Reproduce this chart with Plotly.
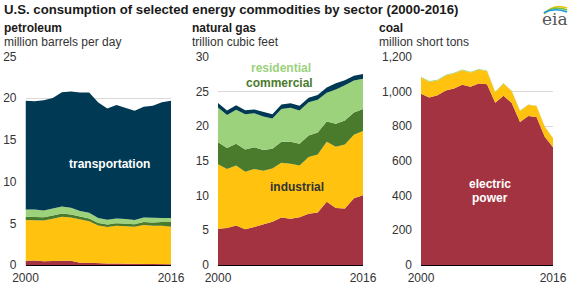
import plotly.graph_objects as go

W, H = 575, 288

years = list(range(2000, 2017))

# petroleum, million barrels per day
pet_electric = [0.50, 0.55, 0.45, 0.50, 0.50, 0.50, 0.27, 0.28, 0.20, 0.18, 0.18, 0.13, 0.10, 0.11, 0.13, 0.11, 0.10]
pet_industrial = [4.90, 4.85, 4.90, 5.05, 5.30, 5.20, 5.18, 4.97, 4.55, 4.37, 4.52, 4.52, 4.50, 4.69, 4.57, 4.59, 4.50]
pet_commercial = [0.40, 0.40, 0.38, 0.40, 0.38, 0.37, 0.33, 0.33, 0.30, 0.32, 0.32, 0.32, 0.30, 0.35, 0.40, 0.45, 0.55]
pet_residential = [0.85, 0.85, 0.80, 0.85, 0.85, 0.80, 0.70, 0.70, 0.60, 0.55, 0.55, 0.55, 0.50, 0.55, 0.55, 0.50, 0.50]
pet_transport = [13.05, 13.00, 13.23, 13.23, 13.70, 13.93, 14.21, 14.40, 13.85, 13.35, 13.61, 13.36, 13.09, 13.27, 13.46, 13.88, 14.04]

# natural gas, trillion cubic feet
gas_electric = [5.21, 5.34, 5.67, 5.14, 5.46, 5.87, 6.22, 6.84, 6.67, 6.87, 7.39, 7.57, 9.11, 8.19, 8.15, 9.61, 10.03]
gas_industrial = [9.28, 8.47, 8.64, 8.29, 8.37, 7.70, 7.68, 7.89, 7.92, 7.47, 8.15, 8.35, 8.65, 8.84, 9.18, 9.14, 9.25]
gas_commercial = [3.18, 3.02, 3.14, 3.18, 3.13, 2.99, 2.83, 3.01, 3.15, 3.12, 3.10, 3.16, 2.90, 3.30, 3.47, 3.20, 3.17]
gas_residential = [5.00, 4.77, 4.89, 5.08, 4.87, 4.83, 4.37, 4.72, 4.89, 4.78, 4.78, 4.71, 4.15, 4.94, 5.09, 4.61, 4.35]
gas_transport = [0.66, 0.64, 0.67, 0.59, 0.57, 0.62, 0.60, 0.64, 0.65, 0.67, 0.67, 0.69, 0.73, 0.89, 0.70, 0.68, 0.69]

# coal, million short tons
coal_electric = [985.8, 964.4, 977.5, 1005.1, 1016.3, 1037.5, 1026.6, 1045.1, 1040.6, 933.6, 975.1, 932.5, 823.6, 858.4, 851.6, 738.4, 677.6]
coal_industrial = [94.2, 91.3, 84.5, 85.6, 85.9, 83.8, 82.5, 79.4, 76.4, 60.8, 70.4, 67.8, 63.5, 64.0, 64.1, 58.1, 52.1]
coal_rescom = [4.1, 4.4, 4.4, 4.2, 5.1, 4.7, 3.2, 3.5, 3.5, 3.1, 3.0, 2.6, 2.1, 2.0, 2.0, 1.6, 1.4]

RED = "#a33340"
YELLOW = "#ffc20e"
DKGREEN = "#4a7a2c"
LTGREEN = "#9bd27b"
NAVY = "#003953"
FONT = "Liberation Sans, Arial, sans-serif"

def px(x):
    return x / W

def py(y):
    return 1 - y / H

fig = go.Figure()

def add_stack(series, axis, group):
    for vals, col in series:
        fig.add_trace(go.Scatter(
            x=years, y=vals, mode="lines", line=dict(width=0, color=col),
            fillcolor=col, stackgroup=group, xaxis="x" + axis, yaxis="y" + axis,
            hoverinfo="skip", showlegend=False,
        ))

add_stack([(pet_electric, RED), (pet_industrial, YELLOW), (pet_commercial, DKGREEN),
           (pet_residential, LTGREEN), (pet_transport, NAVY)], "", "pet")
add_stack([(gas_electric, RED), (gas_industrial, YELLOW), (gas_commercial, DKGREEN),
           (gas_residential, LTGREEN), (gas_transport, NAVY)], "2", "gas")
add_stack([(coal_electric, RED), (coal_industrial, YELLOW), (coal_rescom, LTGREEN)], "3", "coal")

y_dom = [py(265), py(56.6)]
xax = dict(range=[2000, 2016], tickvals=[2000, 2016], showgrid=False, showline=True,
           linecolor="black", linewidth=1, ticks="", zeroline=False, automargin=False,
           ticklabelstandoff=2,
           tickfont=dict(size=12, color="#333333", family=FONT))
yax = dict(showgrid=True, gridcolor="#d9d9d9", gridwidth=1, zeroline=False, ticks="",
           showline=False, automargin=False,
           tickfont=dict(size=12, color="#333333", family=FONT), ticklabelstandoff=8)

fig.update_layout(
    width=W, height=H, margin=dict(l=0, r=0, t=0, b=0),
    paper_bgcolor="white", plot_bgcolor="white",
    font=dict(family=FONT, color="#333333"),
    xaxis=dict(xax, domain=[px(25.5), px(171)], anchor="y"),
    yaxis=dict(yax, domain=y_dom, range=[0, 25], dtick=5, anchor="x"),
    xaxis2=dict(xax, domain=[px(218), px(363)], anchor="y2"),
    yaxis2=dict(yax, domain=y_dom, range=[0, 30], dtick=5, anchor="x2"),
    xaxis3=dict(xax, domain=[px(421), px(553)], anchor="y3"),
    yaxis3=dict(yax, domain=y_dom, range=[0, 1200], dtick=200, tickformat=",", anchor="x3"),
)

def note(x, y, text, size=12, color="#333333", bold=False, xanchor="left", family=FONT):
    if bold:
        text = "<b>" + text + "</b>"
    fig.add_annotation(x=px(x), y=py(y), xref="paper", yref="paper", text=text,
                       showarrow=False, xanchor=xanchor, yanchor="middle",
                       font=dict(size=size, color=color, family=family))

note(2, 9, "U.S. consumption of selected energy commodities by sector (2000-2016)", size=13.2, color="#1a1a1a", bold=True)
for x0, name, unit in [(2, "petroleum", "million barrels per day"),
                       (190, "natural gas", "trillion cubic feet"),
                       (377, "coal", "million short tons")]:
    note(x0, 28, name, bold=True, color="#1a1a1a")
    note(x0, 42, unit)

note(109, 164, "transportation", color="white", bold=True, xanchor="center")
note(281, 68, "residential", color=LTGREEN, bold=True, xanchor="center")
note(279, 83, "commercial", color=DKGREEN, bold=True, xanchor="center")
note(297, 187, "industrial", color="#333333", bold=True, xanchor="center")
note(490, 184, "electric", color="white", bold=True, xanchor="center")
note(490, 198, "power", color="white", bold=True, xanchor="center")

# eia logo
note(555, 19, "eia", size=17, color="#555555", xanchor="center", family="DejaVu Serif, serif")
for dy, col in [(0, "#f5c400"), (2, "#7cc242"), (4, "#1a9ad6")]:
    fig.add_shape(type="path", xref="paper", yref="paper",
                  path=f"M {px(544)},{py(14 - dy * 0.3)} Q {px(554)},{py(3 + dy)} {px(567)},{py(8 + dy)}",
                  line=dict(color=col, width=1.6))

fig.write_html("out.html", config={"displayModeBar": False},
               post_script="document.body.style.margin='0px';")
